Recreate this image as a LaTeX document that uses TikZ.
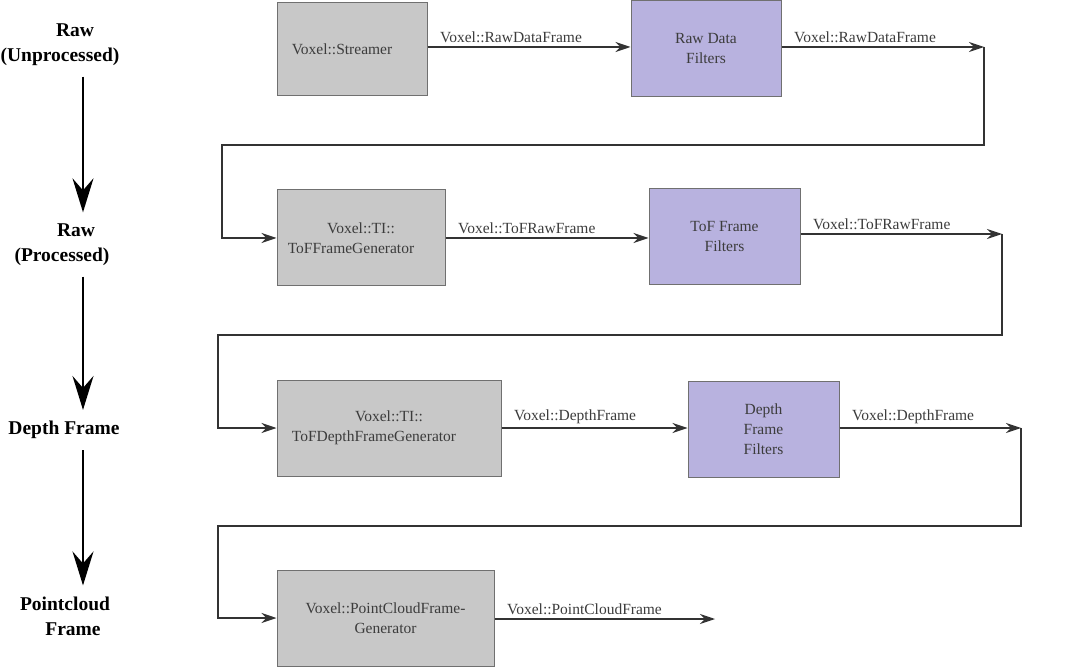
\documentclass[tikz,border=0pt]{standalone}
\usepackage{fontspec}
\setmainfont{Liberation Serif}
\usetikzlibrary{arrows.meta}
\definecolor{boxgray}{HTML}{C8C8C8}
\definecolor{boxlilac}{HTML}{B8B2DF}
\definecolor{edgegray}{HTML}{707070}
\definecolor{txtgray}{HTML}{3C3C3C}
\begin{document}
\begin{tikzpicture}[x=1pt, y=-1pt,
    box/.style={draw=edgegray, line width=1pt, align=center, text=txtgray,
      font=\fontsize{15.5}{20}\selectfont, minimum height=96pt, inner sep=0pt},
    gen/.style={box, fill=boxgray},
    filt/.style={box, fill=boxlilac},
    flow/.style={line width=1.2pt, draw=black!80, -{Stealth[length=15pt,width=10pt,inset=5pt]}},
    lbl/.style={anchor=south west, inner sep=2pt, xshift=10pt, yshift=2pt, text=txtgray,
      font=\fontsize{15.5}{18}\selectfont},
    stage/.style={align=center, inner sep=0pt, font=\bfseries\fontsize{19.5}{25}\selectfont},
    down/.style={line width=2pt, shorten <=11pt, shorten >=11pt,
      -{Stealth[length=34pt,width=21pt,inset=12pt]}}]
    \useasboundingbox (0,0) rectangle (1079,668);

    % stages on the left
    \node[stage] (l1) at (60,44.5) {\hspace*{30pt}Raw\\(Unprocessed)};
    \node[stage] (l2) at (62,244.5) {\hspace*{28pt}Raw\\(Processed)};
    \node[stage] (l3) at (64,430) {Depth Frame};
    \node[stage] (l4) at (65,616) {Pointcloud\\\hspace*{16pt}Frame};
    \coordinate (ax) at (83,0);
    \draw[down] (l1.south -| ax) -- (l2.north -| ax);
    \draw[down] (l2.south -| ax) -- (l3.north -| ax);
    \draw[down] (l3.south -| ax) -- (l4.north -| ax);

    % pipeline blocks
    \node[gen, minimum width=150pt, minimum height=93pt] (s1) at (352,49.5) {Voxel::Streamer\hspace*{20pt}};
    \node[filt, minimum width=150pt] (s2) at (706,48.75) {Raw Data\\Filters};
    \node[gen, minimum width=168pt] (s3) at (361,238) {Voxel::TI::\\ToFFrameGenerator\hspace*{20pt}};
    \node[filt, minimum width=151pt] (s4) at (724.5,236.5) {ToF Frame\\Filters};
    \node[gen, minimum width=224pt] (s5) at (389,428) {Voxel::TI::\\ToFDepthFrameGenerator\hspace*{30pt}};
    \node[filt, minimum width=151pt] (s6) at (763.5,429) {Depth\\Frame\\Filters};
    \node[gen, minimum width=217pt] (s7) at (385.5,618) {Voxel::PointCloudFrame-\\Generator};

    \coordinate (e1) at (984,47);
    \coordinate (b1) at (222,145);
    \coordinate (e2) at (1002,234);
    \coordinate (b2) at (218,335);
    \coordinate (e3) at (1021,428);
    \coordinate (b3) at (218,526);
    \coordinate (e4) at (715,619);

    \draw[flow] (s1.east |- e1) -- node[lbl, pos=0] {Voxel::RawDataFrame} (s2.west |- e1);
    \draw[flow] (s2.east |- e1) -- node[lbl, pos=0] {Voxel::RawDataFrame} (e1);
    \draw[flow] (e1) |- (b1) |- (s3.west);

    \draw[flow] (s3.east) -- node[lbl, pos=0] {Voxel::ToFRawFrame} (s4.west |- s3.east);
    \draw[flow] (s4.east |- e2) -- node[lbl, pos=0] {Voxel::ToFRawFrame} (e2);
    \draw[flow] (e2) |- (b2) |- (s5.west);

    \draw[flow] (s5.east) -- node[lbl, pos=0] {Voxel::DepthFrame} (s6.west |- s5.east);
    \draw[flow] (s6.east |- e3) -- node[lbl, pos=0] {Voxel::DepthFrame} (e3);
    \draw[flow] (e3) |- (b3) |- (s7.west);

    \draw[flow] (s7.east |- e4) -- node[lbl, pos=0] {Voxel::PointCloudFrame} (e4);
\end{tikzpicture}
\end{document}
